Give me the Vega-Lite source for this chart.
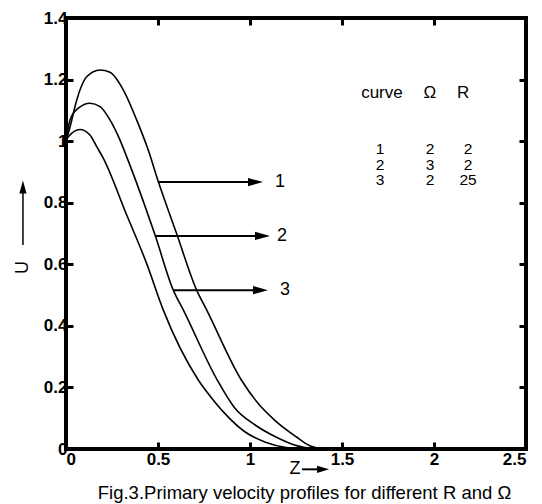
{
  "$schema": "https://vega.github.io/schema/vega-lite/v6.json",
  "width": 460,
  "height": 431,
  "autosize": {"type": "none"},
  "padding": {"left": 66, "top": 18, "right": 16, "bottom": 55},
  "background": "white",
  "config": {
    "view": {"stroke": "black", "strokeWidth": 4},
    "font": "Liberation Sans, Arial, sans-serif",
    "axis": {"grid": false, "domain": false, "tickColor": "black", "tickWidth": 3, "labelColor": "black", "titleColor": "black"}
  },
  "datasets": {
    "curves": [
      {"curve": 1, "z": 0, "u": 1.0},
      {"curve": 1, "z": 0.022, "u": 1.046},
      {"curve": 1, "z": 0.058, "u": 1.133},
      {"curve": 1, "z": 0.112, "u": 1.209},
      {"curve": 1, "z": 0.185, "u": 1.231},
      {"curve": 1, "z": 0.239, "u": 1.224},
      {"curve": 1, "z": 0.312, "u": 1.166},
      {"curve": 1, "z": 0.384, "u": 1.069},
      {"curve": 1, "z": 0.447, "u": 0.971},
      {"curve": 1, "z": 0.502, "u": 0.868},
      {"curve": 1, "z": 0.601, "u": 0.700},
      {"curve": 1, "z": 0.710, "u": 0.516},
      {"curve": 1, "z": 0.765, "u": 0.451},
      {"curve": 1, "z": 0.953, "u": 0.224},
      {"curve": 1, "z": 1.047, "u": 0.146},
      {"curve": 1, "z": 1.141, "u": 0.090},
      {"curve": 1, "z": 1.253, "u": 0.039},
      {"curve": 1, "z": 1.320, "u": 0.012},
      {"curve": 1, "z": 1.384, "u": 0.0},
      {"curve": 2, "z": 0, "u": 1.0},
      {"curve": 2, "z": 0.022, "u": 1.069},
      {"curve": 2, "z": 0.067, "u": 1.107},
      {"curve": 2, "z": 0.130, "u": 1.123},
      {"curve": 2, "z": 0.185, "u": 1.112},
      {"curve": 2, "z": 0.239, "u": 1.069},
      {"curve": 2, "z": 0.293, "u": 1.004},
      {"curve": 2, "z": 0.330, "u": 0.949},
      {"curve": 2, "z": 0.484, "u": 0.695},
      {"curve": 2, "z": 0.583, "u": 0.516},
      {"curve": 2, "z": 0.638, "u": 0.451},
      {"curve": 2, "z": 0.822, "u": 0.224},
      {"curve": 2, "z": 0.916, "u": 0.134},
      {"curve": 2, "z": 1.028, "u": 0.078},
      {"curve": 2, "z": 1.141, "u": 0.039},
      {"curve": 2, "z": 1.253, "u": 0.011},
      {"curve": 2, "z": 1.347, "u": 0.0},
      {"curve": 3, "z": 0, "u": 1.0},
      {"curve": 3, "z": 0.0125, "u": 1.014},
      {"curve": 3, "z": 0.076, "u": 1.038},
      {"curve": 3, "z": 0.130, "u": 1.020},
      {"curve": 3, "z": 0.167, "u": 0.982},
      {"curve": 3, "z": 0.203, "u": 0.944},
      {"curve": 3, "z": 0.330, "u": 0.760},
      {"curve": 3, "z": 0.438, "u": 0.603},
      {"curve": 3, "z": 0.529, "u": 0.451},
      {"curve": 3, "z": 0.719, "u": 0.224},
      {"curve": 3, "z": 0.803, "u": 0.157},
      {"curve": 3, "z": 0.878, "u": 0.106},
      {"curve": 3, "z": 0.972, "u": 0.056},
      {"curve": 3, "z": 1.084, "u": 0.022},
      {"curve": 3, "z": 1.197, "u": 0.005},
      {"curve": 3, "z": 1.330, "u": 0.0}
    ],
    "arrows": [
      {"label": "1", "z1": 0.500, "z2": 1.030, "u": 0.867, "zl": 1.163},
      {"label": "2", "z1": 0.484, "z2": 1.068, "u": 0.692, "zl": 1.174},
      {"label": "3", "z1": 0.582, "z2": 1.057, "u": 0.516, "zl": 1.190}
    ],
    "header": [
      {"t": "curve", "z": 1.717, "u": 1.156},
      {"t": "Ω", "z": 1.978, "u": 1.156},
      {"t": "R", "z": 2.158, "u": 1.156}
    ],
    "table": [
      {"t": "1\n2\n3", "z": 1.707, "u": 0.973},
      {"t": "2\n3\n2", "z": 1.978, "u": 0.973},
      {"t": "2\n2\n25", "z": 2.185, "u": 0.973}
    ]
  },
  "resolve": {"axis": {"x": "independent", "y": "independent"}},
  "layer": [
    {
      "data": {"name": "curves"},
      "mark": {"type": "line", "interpolate": "monotone", "color": "black", "strokeWidth": 1.6},
      "encoding": {
        "x": {
          "field": "z", "type": "quantitative",
          "scale": {"domain": [0, 2.5], "nice": false, "zero": false},
          "axis": {
            "orient": "bottom", "values": [0, 0.5, 1, 1.5, 2, 2.5],
            "labelExpr": "format(datum.value, '~g')",
            "tickSize": -7, "labelPadding": 9, "labelFontSize": 17, "labelFontWeight": "bold",
            "title": "Fig.3.Primary velocity profiles for different R and Ω",
            "titleFontSize": 18.5, "titleFontWeight": "normal",
            "titleX": 238, "titleY": 43, "titleBaseline": "middle", "titleAlign": "center"
          }
        },
        "y": {
          "field": "u", "type": "quantitative",
          "scale": {"domain": [0, 1.4], "nice": false, "zero": false},
          "axis": {
            "orient": "left", "values": [0, 0.2, 0.4, 0.6, 0.8, 1, 1.2, 1.4],
            "labelExpr": "format(datum.value, '~g')",
            "tickSize": -7, "labelPadding": 6, "labelFontSize": 17, "labelFontWeight": "bold",
            "title": "U", "titleFontSize": 18, "titleFontWeight": "normal",
            "titleX": -44, "titleY": 249, "titleAngle": -90, "titleBaseline": "middle", "titleAlign": "center"
          }
        },
        "detail": {"field": "curve", "type": "nominal"}
      }
    },
    {
      "data": {"name": "arrows"},
      "mark": {"type": "rule", "color": "black", "strokeWidth": 2},
      "encoding": {
        "x": {"field": "z1", "type": "quantitative", "axis": {"orient": "top", "values": [0, 0.5, 1, 1.5, 2, 2.5], "labels": false, "title": null, "tickSize": -7}},
        "x2": {"field": "z2"},
        "y": {"field": "u", "type": "quantitative", "axis": {"orient": "right", "values": [0, 0.2, 0.4, 0.6, 0.8, 1, 1.2, 1.4], "labels": false, "title": null, "tickSize": -7}}
      }
    },
    {
      "data": {"name": "arrows"},
      "mark": {"type": "point", "shape": "M1,0L-1,-0.55L-1,0.55Z", "size": 225, "filled": true, "color": "black", "opacity": 1},
      "encoding": {
        "x": {"field": "z2", "type": "quantitative", "axis": null},
        "y": {"field": "u", "type": "quantitative", "axis": null}
      }
    },
    {
      "data": {"name": "arrows"},
      "mark": {"type": "text", "fontSize": 18, "color": "black", "align": "center", "baseline": "middle"},
      "encoding": {
        "x": {"field": "zl", "type": "quantitative", "axis": null},
        "y": {"field": "u", "type": "quantitative", "axis": null},
        "text": {"field": "label"}
      }
    },
    {
      "data": {"name": "header"},
      "mark": {"type": "text", "fontSize": 17, "color": "black", "align": "center", "baseline": "middle"},
      "encoding": {
        "x": {"field": "z", "type": "quantitative", "axis": null},
        "y": {"field": "u", "type": "quantitative", "axis": null},
        "text": {"field": "t"}
      }
    },
    {
      "data": {"name": "table"},
      "mark": {"type": "text", "fontSize": 15.5, "lineHeight": 15.5, "lineBreak": "\n", "color": "black", "align": "center", "baseline": "middle"},
      "encoding": {
        "x": {"field": "z", "type": "quantitative", "axis": null},
        "y": {"field": "u", "type": "quantitative", "axis": null},
        "text": {"field": "t"}
      }
    },
    {
      "data": {"values": [{}]},
      "mark": {"type": "rule", "color": "black", "strokeWidth": 1.5},
      "encoding": {
        "x": {"datum": -0.234, "type": "quantitative", "axis": null},
        "y": {"datum": 0.663, "type": "quantitative", "axis": null},
        "y2": {"datum": 0.845}
      }
    },
    {
      "data": {"values": [{}]},
      "mark": {"type": "point", "shape": "M0,-1L-0.55,1L0.55,1Z", "size": 169, "filled": true, "color": "black", "opacity": 1},
      "encoding": {
        "x": {"datum": -0.234, "type": "quantitative", "axis": null},
        "y": {"datum": 0.851, "type": "quantitative", "axis": null}
      }
    },
    {
      "data": {"values": [{}]},
      "mark": {"type": "text", "text": "Z", "fontSize": 18, "color": "black", "align": "center", "baseline": "middle"},
      "encoding": {
        "x": {"datum": 1.245, "type": "quantitative", "axis": null},
        "y": {"datum": -0.066, "type": "quantitative", "axis": null}
      }
    },
    {
      "data": {"values": [{}]},
      "mark": {"type": "rule", "color": "black", "strokeWidth": 2},
      "encoding": {
        "x": {"datum": 1.283, "type": "quantitative", "axis": null},
        "x2": {"datum": 1.37},
        "y": {"datum": -0.066, "type": "quantitative", "axis": null}
      }
    },
    {
      "data": {"values": [{}]},
      "mark": {"type": "point", "shape": "M1,0L-1,-0.6L-1,0.6Z", "size": 144, "filled": true, "color": "black", "opacity": 1},
      "encoding": {
        "x": {"datum": 1.397, "type": "quantitative", "axis": null},
        "y": {"datum": -0.066, "type": "quantitative", "axis": null}
      }
    }
  ]
}
